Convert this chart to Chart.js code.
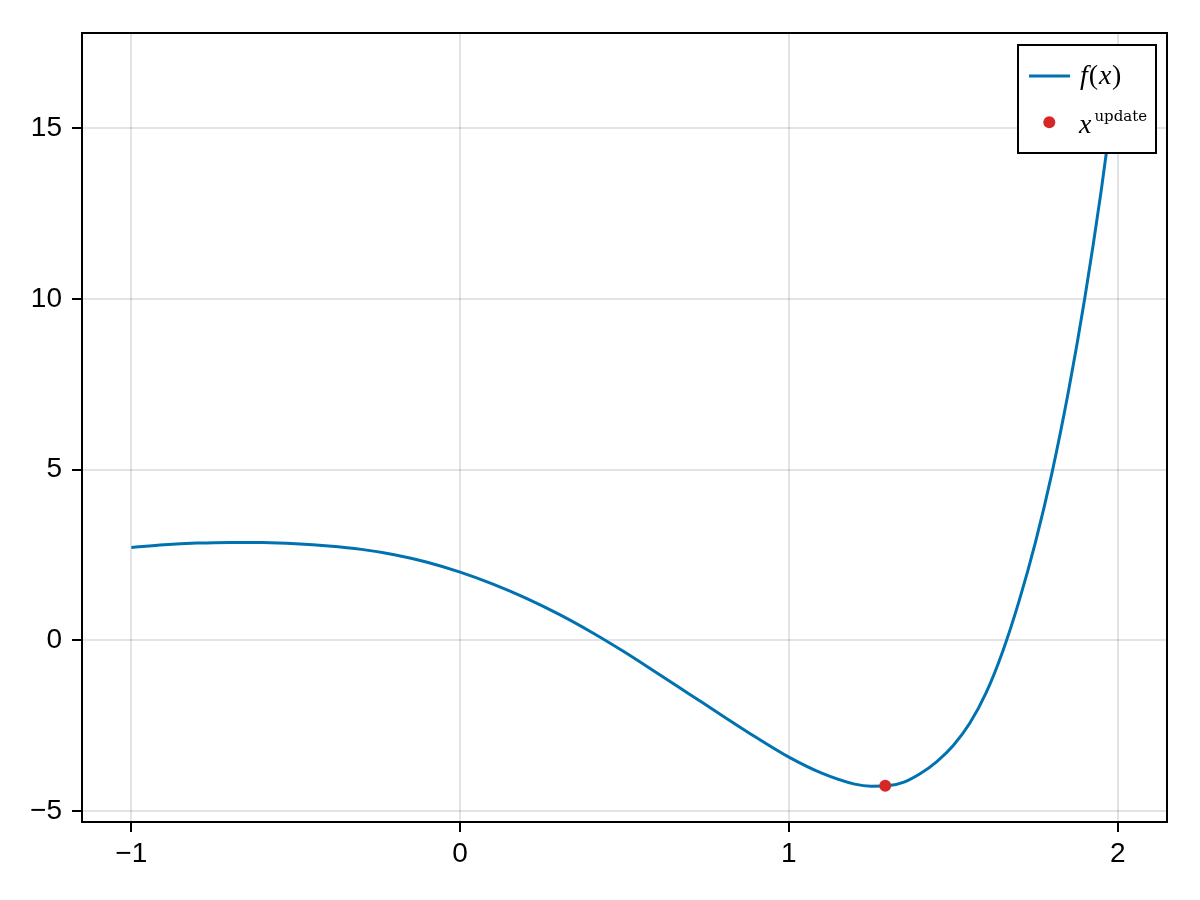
<!DOCTYPE html>
<html><head><meta charset="utf-8">
<script src="https://cdn.jsdelivr.net/npm/chart.js@4/dist/chart.umd.min.js"></script>
<style>html,body{margin:0;padding:0;background:#fff}#wrap{width:1200px;height:900px}</style>
</head><body><div id="wrap"><canvas id="c" width="1200" height="900"></canvas></div>
<script>
// ---- data ----
const curveX = [-1.0,-0.9,-0.8,-0.7,-0.6,-0.5,-0.4,-0.3,-0.2,-0.1,0.0,0.1,0.2,0.3,0.4,0.5,0.6,0.7,0.8,0.9,1.0,1.1,1.2,1.25,1.3,1.35,1.4,1.45,1.5,1.55,1.6,1.65,1.7,1.75,1.8,1.85,1.9,1.95,2.0];
const curveY = [2.72,2.80,2.85,2.87,2.865,2.83,2.765,2.665,2.51,2.29,2.00,1.65,1.24,0.77,0.24,-0.34,-0.96,-1.59,-2.22,-2.84,-3.42,-3.89,-4.21,-4.27,-4.26,-4.15,-3.90,-3.55,-3.08,-2.43,-1.53,-0.33,1.15,2.88,4.90,7.28,10.03,13.18,16.76];
const updateX = [1.293];
const updateY = [-4.255];
const xTicks = [-1,0,1,2];
const xTickLabels = ['\u22121','0','1','2'];
const yTicks = [-5,0,5,10,15];
const yTickLabels = ['\u22125','0','5','10','15'];
const xRange = [-1.15, 2.15];
const yRange = [-5.32, 17.79];
const seriesNames = ['f(x)', 'x^update'];

const BLUE = '#0072b2';
const RED = '#d62728';
const GRID = 'rgba(0,0,0,0.11)';
const TICKFONT = {family:'"Liberation Sans", Arial, Helvetica, sans-serif', size:28, lineHeight:1};

const frameLegend = {
  id:'frameLegend',
  afterDraw(chart){
    const ctx = chart.ctx, a = chart.chartArea;
    ctx.save();
    ctx.strokeStyle = '#000'; ctx.lineWidth = 2;
    ctx.strokeRect(a.left, a.top, a.right - a.left, a.bottom - a.top);
    // legend box
    const bx = a.right - 149, by = a.top + 12, bw = 138, bh = 108;
    ctx.fillStyle = '#fff';
    ctx.fillRect(bx, by, bw, bh);
    ctx.strokeRect(bx, by, bw, bh);
    // entry 1: line sample
    ctx.strokeStyle = BLUE; ctx.lineWidth = 3;
    ctx.beginPath(); ctx.moveTo(bx + 11, by + 31); ctx.lineTo(bx + 52, by + 31); ctx.stroke();
    ctx.fillStyle = '#000';
    ctx.textBaseline = 'alphabetic'; ctx.textAlign = 'left';
    const it = 'italic 28px "Liberation Serif", "Times New Roman", serif';
    const rm = '28px "Liberation Serif", "Times New Roman", serif';
    let x = bx + 62, y = by + 38.5;
    const parts = [['f', it, 1], ['(', rm, 1], ['x', it, 0.5], [')', rm, 0]];
    for (const [t, f, gap] of parts) { ctx.font = f; ctx.fillText(t, x, y); x += ctx.measureText(t).width + gap; }
    // entry 2: marker
    ctx.fillStyle = RED;
    ctx.beginPath(); ctx.arc(bx + 31.3, by + 77.3, 6, 0, Math.PI * 2); ctx.fill();
    ctx.fillStyle = '#000';
    ctx.font = it;
    x = bx + 61; y = by + 88;
    ctx.fillText('x', x, y);
    x += ctx.measureText('x').width + 3;
    ctx.font = '15px "DejaVu Serif", "Liberation Serif", serif';
    ctx.fillText('update', x, by + 75.7);
    ctx.restore();
  }
};

new Chart(document.getElementById('c'), {
  type: 'scatter',
  data: {
    datasets: [
      { label: seriesNames[1], data: updateX.map((v,i)=>({x:v, y:updateY[i]})),
        pointRadius: 6, pointHoverRadius: 6, pointBackgroundColor: RED, pointBorderWidth: 0, showLine: false, order: 0 },
      { label: seriesNames[0], data: curveX.map((v,i)=>({x:v, y:curveY[i]})),
        showLine: true, borderColor: BLUE, borderWidth: 3, pointRadius: 0, pointHoverRadius: 0,
        cubicInterpolationMode: 'monotone', fill: false, order: 1 }
    ]
  },
  options: {
    responsive: false, maintainAspectRatio: false, animation: false, devicePixelRatio: 1,
    layout: { padding: { top: 33, right: 33, left: 0, bottom: 0 } },
    plugins: { legend: { display: false }, tooltip: { enabled: false } },
    scales: {
      x: {
        type: 'linear', min: xRange[0], max: xRange[1],
        afterBuildTicks: s => { s.ticks = xTicks.map(v => ({value: v})); },
        afterFit: s => { s.height = 78; },
        grid: { color: GRID, lineWidth: 2, tickLength: 10, tickColor: '#000', tickWidth: 2 },
        border: { display: false },
        ticks: { font: TICKFONT, color: '#000', padding: 8, maxRotation: 0, autoSkip: false,
                 callback: v => xTickLabels[xTicks.indexOf(v)] }
      },
      y: {
        type: 'linear', min: yRange[0], max: yRange[1],
        afterBuildTicks: s => { s.ticks = yTicks.map(v => ({value: v})); },
        afterFit: s => { s.width = 82; },
        grid: { color: GRID, lineWidth: 2, tickLength: 10, tickColor: '#000', tickWidth: 2 },
        border: { display: false },
        ticks: { font: TICKFONT, color: '#000', padding: 10, autoSkip: false,
                 callback: v => yTickLabels[yTicks.indexOf(v)] }
      }
    }
  },
  plugins: [frameLegend]
});
</script></body></html>
